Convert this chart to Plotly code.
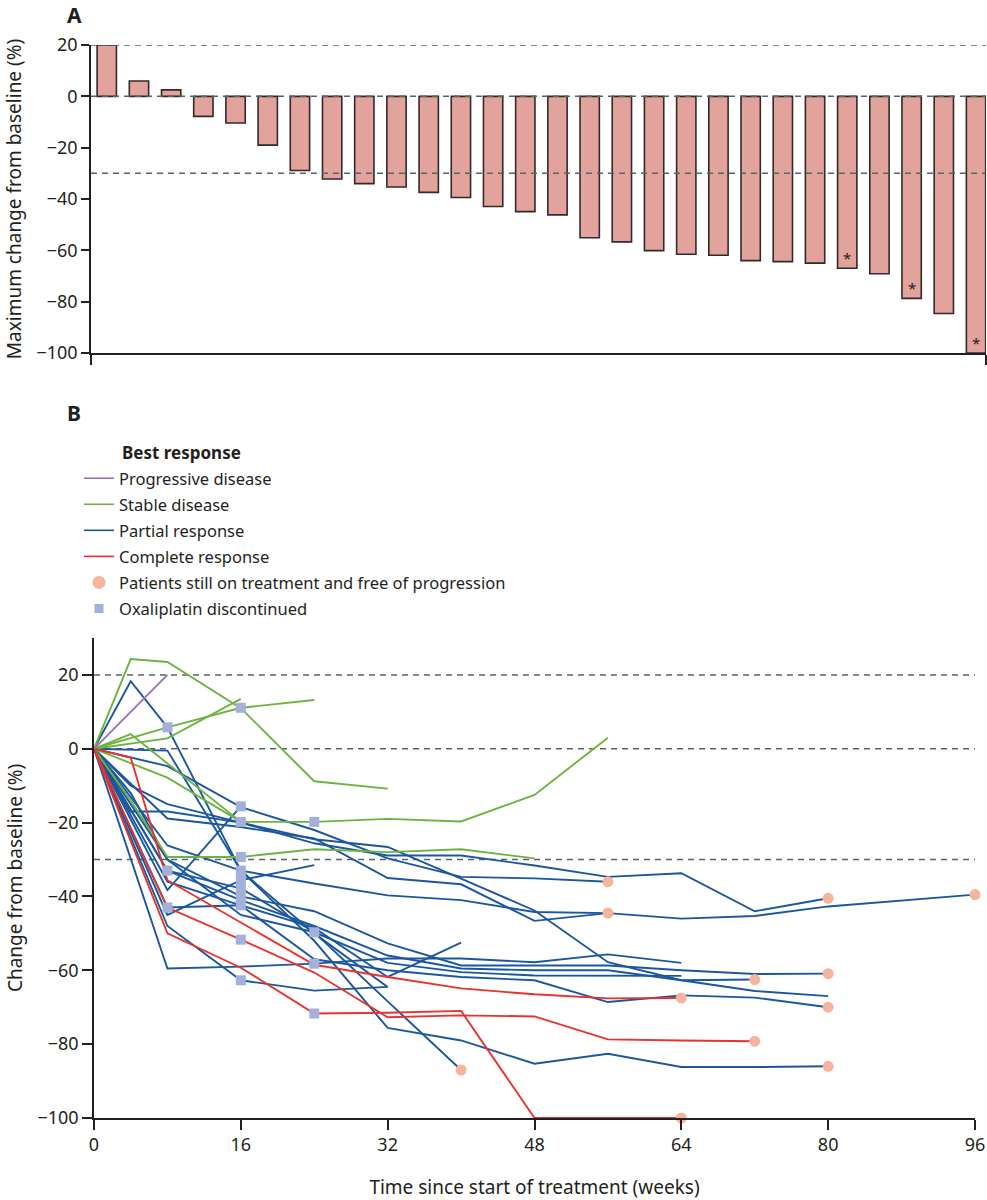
import plotly.graph_objects as go

# ---- panel A: waterfall of best change per patient ----
max_change = [20, 6.0, 2.5, -7.8, -10.4, -19.0, -28.9, -32.2, -34.0, -35.3, -37.4, -39.4, -42.9, -44.9,
              -46.2, -55.1, -56.7, -60.1, -61.5, -61.9, -64.0, -64.4, -65.0, -67.0, -69.1, -78.7, -84.6, -100]
starred = [23, 25, 27]

# ---- panel B: change from baseline over time, one list per patient ----
progressive_weeks = [[0, 8]]
progressive_values = [[0, 20]]
progressive_stop = [None]
progressive_ongoing = [False]

stable_weeks = [
    [0, 4, 8, 16, 24, 32],
    [0, 8, 16],
    [0, 8, 16, 24],
    [0, 4, 8, 16, 24, 32, 40, 48, 56],
    [0, 4, 8, 16, 24, 32, 40, 48],
    [0, 8, 16],
]
stable_values = [
    [0, 24.3, 23.5, 11, -8.8, -10.8],
    [0, 2.8, 13.5],
    [0, 5.8, 11.1, 13.2],
    [0, 4, -4, -19.8, -19.8, -19, -19.7, -12.5, 3],
    [0, -14, -29.3, -29.3, -27.2, -28, -27.2, -29.7],
    [0, -7.8, -19.8],
]
stable_stop = [None, None, 16, 24, 16, 16]
stable_ongoing = [False] * 6

partial_weeks = [
    [0, 4, 8, 16, 24, 32, 40, 48, 56, 64, 72, 80],
    [0, 8, 16, 24, 32],
    [0, 4, 8, 16, 24, 32, 40, 48, 56, 64, 72, 80],
    [0, 8, 16, 24, 32, 40, 48, 56, 64, 72],
    [0, 8, 16, 24, 32, 40, 48, 56, 64, 72, 80],
    [0, 8, 16, 24, 32, 40, 48, 56, 64],
    [0, 4, 8, 16, 24, 32, 40, 48, 56, 64, 72, 80],
    [0, 8, 16, 24, 32, 40, 48, 56],
    [0, 8, 16, 24, 32, 40, 48, 56],
    [0, 8, 16, 24, 32, 40, 48, 56, 64, 72, 80, 88, 96],
    [0, 4, 8, 16, 24, 32, 40, 48, 56, 64, 72, 80],
    [0, 8, 16, 24, 32, 40],
    [0, 8, 16, 24, 32, 40],
    [0, 8, 16, 24],
    [0, 8, 16],
    [0, 8, 16, 24, 32],
    [0, 8, 16, 24, 32, 40, 48, 56, 64],
]
partial_values = [
    [0, 18.3, 5.8, -33, -52, -75.6, -79, -85.3, -82.6, -86.2, -86.2, -86],
    [0, -0.5, -33, -50, -64.5],
    [0, -12, -30, -40, -44, -52.7, -58.7, -58.7, -58.7, -60, -61, -60.9],
    [0, -33, -41, -48, -56, -59.5, -60, -60, -62.7, -62.5],
    [0, -36, -42.4, -57, -60, -61.8, -62.7, -68.6, -66.8, -67.4, -70],
    [0, -59.5, -59, -58.2, -56.8, -56.8, -57.8, -55.7, -58],
    [0, -10, -15, -20, -25.6, -28.9, -28.9, -31.6, -34.7, -33.7, -44, -40.5],
    [0, -4.7, -15.8, -22, -29.7, -34.7, -35.1, -36],
    [0, -18.9, -21.2, -24.3, -35, -36.7, -46.6, -44.5],
    [0, -26.2, -33, -36.5, -39.7, -41, -44.2, -44.5, -46, -45.3, -42.7, -41, -39.5],
    [0, -17, -17, -20, -24.5, -26.6, -35.2, -43.8, -57.8, -62.7, -65.6, -67],
    [0, -33, -37.8, -49.7, -68.4, -87],
    [0, -43, -42.4, -48.5, -61.8, -52.5],
    [0, -45, -35.6, -31.5],
    [0, -38.3, -15.6],
    [0, -48, -62.7, -65.5, -64.5],
    [0, -30, -45, -49.7, -58, -60.5, -61.4, -61.4, -61.5],
]
partial_stop = [8, 16, 16, 8, 16, 24, None, None, None, None, None, 16, 8, 16, 16, 16, 24]
partial_ongoing = [True, False, True, True, True, False, True, True, True, True, False, True,
                   False, False, False, False, False]

complete_weeks = [
    [0, 4, 8, 16, 24, 32, 40, 48, 56, 64],
    [0, 8, 16, 24, 32, 40, 48, 56, 64, 72],
    [0, 8, 16, 24, 32, 40, 48, 56, 64],
]
complete_values = [
    [0, -2.4, -35.6, -47, -58.5, -61.8, -64.9, -66.5, -67.6, -67.5],
    [0, -43, -51.7, -60.6, -72.7, -72.2, -72.5, -78.7, -79, -79.2],
    [0, -50, -59.3, -71.7, -71.5, -71, -100, -100, -100],
]
complete_stop = [None, 16, 24]
complete_ongoing = [True, True, True]

week_ticks = [0, 16, 32, 48, 64, 80, 96]
pct_ticks_a = [20, 0, -20, -40, -60, -80, -100]
pct_ticks_b = [20, 0, -20, -40, -60, -80, -100]
thresholds = [20, 0, -30]

purple = '#9a74b8'
green = '#6db33f'
blue = '#1b579f'
red = '#e8322b'
square_col = '#a3b0da'
dot_col = '#f5b49b'
dash_col = '#57636b'
axis_col = '#231f20'
font_family = 'Noto Sans'

W, H = 987, 1200
fig = go.Figure()

# panel A bars
idx = list(range(len(max_change)))
fig.add_trace(go.Bar(x=idx, y=max_change, width=0.6, marker=dict(color='#e3a39d', line=dict(color='#33292a', width=1.6)),
                     showlegend=False, xaxis='x', yaxis='y'))
for i in starred:
    fig.add_annotation(x=i, y=max_change[i] + 4, xref='x', yref='y', text='*', showarrow=False,
                       font=dict(size=15, color=axis_col, family=font_family))

# panel B lines
groups = [
    (partial_weeks, partial_values, partial_stop, partial_ongoing, blue),
    (stable_weeks, stable_values, stable_stop, stable_ongoing, green),
    (complete_weeks, complete_values, complete_stop, complete_ongoing, red),
    (progressive_weeks, progressive_values, progressive_stop, progressive_ongoing, purple),
]
sq_x, sq_y, dot_x, dot_y = [], [], [], []
for weeks, values, stops, ongoing, col in groups:
    for w, v, s, o in zip(weeks, values, stops, ongoing):
        fig.add_trace(go.Scatter(x=w, y=v, mode='lines', line=dict(color=col, width=1.9),
                                 showlegend=False, hoverinfo='skip', xaxis='x2', yaxis='y2'))
        if s is not None:
            sq_x.append(s)
            sq_y.append(v[w.index(s)])
        if o:
            dot_x.append(w[-1])
            dot_y.append(v[-1])

fig.add_trace(go.Scatter(x=sq_x, y=sq_y, mode='markers', marker=dict(symbol='square', size=10, color=square_col),
                         showlegend=False, cliponaxis=False, xaxis='x2', yaxis='y2'))
fig.add_trace(go.Scatter(x=dot_x, y=dot_y, mode='markers', marker=dict(symbol='circle', size=11, color=dot_col),
                         showlegend=False, cliponaxis=False, xaxis='x2', yaxis='y2'))

# legend entries (each in its own group so the group gap spaces the rows)
for name, col in [('Progressive disease', purple), ('Stable disease', green),
                  ('Partial response', blue), ('Complete response', red)]:
    fig.add_trace(go.Scatter(x=[None], y=[None], mode='lines', line=dict(color=col, width=1.6), name=name,
                             legendgroup=name, xaxis='x2', yaxis='y2'))
fig.add_trace(go.Scatter(x=[None], y=[None], mode='markers', marker=dict(symbol='circle', size=13, color=dot_col),
                         name='Patients still on treatment and free of progression', legendgroup='dot',
                         xaxis='x2', yaxis='y2'))
fig.add_trace(go.Scatter(x=[None], y=[None], mode='markers', marker=dict(symbol='square', size=9, color=square_col),
                         name='Oxaliplatin discontinued', legendgroup='square', xaxis='x2', yaxis='y2'))

xa_lo, xa_hi = -0.49, 27.31
for t in thresholds:
    fig.add_shape(type='line', xref='x', yref='y', x0=xa_lo, x1=xa_hi, y0=t, y1=t, layer='above',
                  line=dict(color=dash_col, width=1.5, dash='6px,5px'))
    fig.add_shape(type='line', xref='x2', yref='y2', x0=0, x1=96, y0=t, y1=t, layer='below',
                  line=dict(color=dash_col, width=1.5, dash='6px,5px'))

tickfont = dict(size=18, color=axis_col, family=font_family)
titlefont = dict(size=19, color=axis_col, family=font_family)

fig.update_layout(
    width=W, height=H, margin=dict(l=0, r=0, t=0, b=0),
    paper_bgcolor='white', plot_bgcolor='white',
    font=dict(family=font_family, color=axis_col),
    xaxis=dict(domain=[91 / W, 986 / W], range=[xa_lo, xa_hi], anchor='y', showline=True, linecolor=axis_col,
               linewidth=1.6, ticks='outside', tickvals=[xa_lo, xa_hi], ticklen=10, tickcolor=axis_col,
               tickwidth=1.6, showticklabels=False, showgrid=False, zeroline=False),
    yaxis=dict(domain=[1 - 353 / H, 1 - 45 / H], range=[-100, 20], anchor='x', showline=True, linecolor=axis_col,
               linewidth=1.6, ticks='outside', tickvals=pct_ticks_a, ticklen=8, tickcolor=axis_col, tickwidth=1.6,
               tickfont=tickfont, showgrid=False, zeroline=False, automargin=False,
               title=dict(text='Maximum change from baseline (%)', font=titlefont, standoff=10)),
    xaxis2=dict(domain=[94 / W, 975 / W], range=[0, 96], anchor='y2', showline=True, linecolor=axis_col,
                linewidth=1.6, ticks='outside', tickvals=week_ticks, ticklen=10, tickcolor=axis_col, tickwidth=1.6,
                tickfont=tickfont, showgrid=False, zeroline=False, automargin=False,
                title=dict(text='Time since start of treatment (weeks)', font=titlefont, standoff=26)),
    yaxis2=dict(domain=[1 - 1118 / H, 1 - 638 / H], range=[-100, 30], anchor='x2', showline=True,
                linecolor=axis_col, linewidth=1.6, ticks='outside', tickvals=pct_ticks_b, ticklen=10,
                tickcolor=axis_col, tickwidth=1.6, tickfont=tickfont, showgrid=False, zeroline=False,
                automargin=False,
                title=dict(text='Change from baseline (%)', font=titlefont, standoff=10)),
    legend=dict(x=79 / W, y=1 - 461 / H, xanchor='left', yanchor='top', bgcolor='rgba(0,0,0,0)',
                font=dict(size=16.5, color=axis_col, family=font_family), traceorder='grouped',
                tracegroupgap=1.6, itemwidth=30),
    showlegend=True,
)

fig.add_annotation(x=74 / W, y=1 - 15 / H, xref='paper', yref='paper', text='<b>A</b>', showarrow=False,
                   font=dict(size=21, color=axis_col, family=font_family), xanchor='center', yanchor='middle')
fig.add_annotation(x=74 / W, y=1 - 413 / H, xref='paper', yref='paper', text='<b>B</b>', showarrow=False,
                   font=dict(size=21, color=axis_col, family=font_family), xanchor='center', yanchor='middle')
fig.add_annotation(x=120 / W, y=1 - 452 / H, xref='paper', yref='paper', text='<b>Best response</b>',
                   showarrow=False, font=dict(size=17, color=axis_col, family=font_family),
                   xanchor='left', yanchor='middle')

# drop the page's default body margin so the figure sits at the window's top-left corner
fig.write_html("out.html", config={'displayModeBar': False},
               post_script="document.body.style.margin='0';")
